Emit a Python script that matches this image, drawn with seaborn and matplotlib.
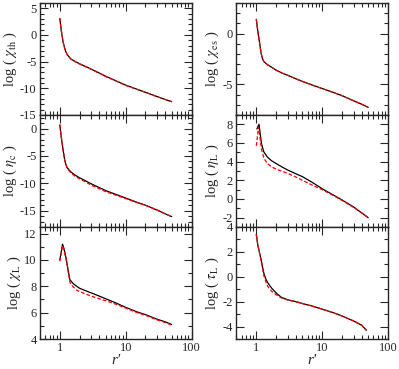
import numpy as np
import pandas as pd
import matplotlib
matplotlib.use("Agg")
import matplotlib.pyplot as plt
import matplotlib.ticker as ticker
import seaborn as sns

# radial coordinate r' for each panel
r_a = [1.0, 1.05, 1.12, 1.18, 1.23, 1.3, 1.47, 1.7, 2.0, 2.5, 3.0, 4.0, 5.0, 7.0, 10.0, 15.0, 20.0, 30.0, 40.0, 50.0]

chi_th_black = [3.1, 0.9, -1.3, -2.4, -3.1, -3.7, -4.5, -4.95, -5.4, -5.95, -6.4, -7.15, -7.75, -8.55, -9.4, -10.2, -10.75, -11.55, -12.1, -12.5]
chi_th_red = [3.1, 0.9, -1.3, -2.4, -3.1, -3.75, -4.55, -5.0, -5.45, -6.0, -6.45, -7.2, -7.8, -8.6, -9.45, -10.2, -10.75, -11.55, -12.1, -12.5]

chi_es_black = [1.4, 0.3, -0.9, -1.9, -2.4, -2.75, -3.05, -3.3, -3.6, -3.9, -4.1, -4.45, -4.7, -5.05, -5.4, -5.8, -6.1, -6.6, -6.95, -7.25]
chi_es_red = [1.4, 0.3, -0.9, -1.9, -2.4, -2.75, -3.05, -3.3, -3.6, -3.9, -4.1, -4.45, -4.7, -5.05, -5.4, -5.8, -6.1, -6.6, -6.95, -7.25]

eta_c_black = [0.7, -1.5, -3.9, -5.6, -6.5, -7.2, -7.9, -8.5, -9.0, -9.6, -10.1, -10.8, -11.35, -12.0, -12.7, -13.5, -14.0, -14.9, -15.6, -16.1]
eta_c_red = [0.7, -1.5, -3.9, -5.6, -6.5, -7.3, -8.1, -8.7, -9.2, -9.8, -10.35, -11.0, -11.55, -12.15, -12.8, -13.55, -14.05, -14.9, -15.6, -16.1]

r_etaL_black = [1.02, 1.05, 1.1, 1.15, 1.2, 1.3, 1.47, 1.7, 2.0, 2.5, 3.0, 4.0, 5.0, 7.0, 10.0, 15.0, 20.0, 30.0, 40.0, 50.0]
eta_L_black = [7.5, 7.7, 8.0, 6.9, 5.9, 5.05, 4.5, 4.1, 3.8, 3.4, 3.1, 2.7, 2.4, 1.8, 1.1, 0.4, -0.1, -0.85, -1.5, -2.0]
r_etaL_red = [1.0, 1.05, 1.08, 1.15, 1.2, 1.3, 1.47, 1.7, 2.0, 2.5, 3.0, 4.0, 5.0, 7.0, 10.0, 15.0, 20.0, 30.0, 40.0, 50.0]
eta_L_red = [5.7, 7.0, 7.7, 6.3, 5.3, 4.4, 3.8, 3.45, 3.2, 2.95, 2.75, 2.35, 2.0, 1.5, 1.0, 0.35, -0.15, -0.9, -1.5, -2.0]

r_chiL = [1.0, 1.05, 1.1, 1.15, 1.2, 1.26, 1.35, 1.42, 1.6, 1.8, 2.0, 2.5, 3.0, 4.0, 5.0, 7.0, 10.0, 15.0, 20.0, 30.0, 40.0, 50.0]
chi_L_black = [10.0, 10.6, 11.2, 10.9, 10.5, 10.0, 9.1, 8.5, 8.2, 8.0, 7.85, 7.65, 7.5, 7.25, 7.05, 6.75, 6.4, 6.05, 5.85, 5.5, 5.3, 5.1]
chi_L_red = [9.9, 10.5, 11.1, 10.8, 10.4, 9.9, 9.0, 8.3, 7.95, 7.7, 7.6, 7.4, 7.25, 7.05, 6.9, 6.65, 6.35, 6.0, 5.8, 5.45, 5.25, 5.05]

r_tau = [1.0, 1.05, 1.11, 1.17, 1.22, 1.3, 1.4, 1.5, 1.7, 2.0, 2.4, 3.0, 4.0, 5.0, 7.0, 10.0, 15.0, 20.0, 30.0, 40.0, 47.0]
tau_L_black = [3.4, 2.6, 2.0, 1.5, 1.0, 0.3, -0.2, -0.5, -0.9, -1.3, -1.65, -1.85, -2.0, -2.15, -2.35, -2.6, -2.9, -3.15, -3.55, -3.9, -4.3]
tau_L_red = [3.4, 2.6, 2.0, 1.4, 0.9, 0.1, -0.4, -0.8, -1.15, -1.45, -1.7, -1.87, -2.0, -2.15, -2.35, -2.6, -2.9, -3.15, -3.55, -3.9, -4.3]

sns.set_style("ticks")
plt.rcParams['font.family'] = ['Liberation Serif', 'DejaVu Serif']
plt.rcParams['mathtext.fontset'] = 'stix'
plt.rcParams['axes.unicode_minus'] = False

panels = [
    (r_a, chi_th_black, r_a, chi_th_red, r'log ( $\chi_{\mathrm{th}}$ )', (-15, 6), 5),
    (r_a, chi_es_black, r_a, chi_es_red, r'log ( $\chi_{\mathrm{es}}$ )', (-8, 3), 5),
    (r_a, eta_c_black, r_a, eta_c_red, r'log ( $\eta_{\mathrm{c}}$ )', (-18, 2.5), 5),
    (r_etaL_black, eta_L_black, r_etaL_red, eta_L_red, r'log ( $\eta_{\mathrm{L}}$ )', (-3, 9), 2),
    (r_chiL, chi_L_black, r_chiL, chi_L_red, r'log ( $\chi_{\mathrm{L}}$ )', (4, 12.5), 2),
    (r_tau, tau_L_black, r_tau, tau_L_red, r'log ( $\tau_{\mathrm{L}}$ )', (-5, 4), 2),
]

fig, axes = plt.subplots(3, 2, figsize=(3.99, 3.69), dpi=100)
fig.subplots_adjust(left=0.1003, right=0.9724, bottom=0.0813, top=0.9919,
                    hspace=0, wspace=0.297)

for i, (rb, yb, rr, yr, label, ylim, major) in enumerate(panels):
    ax = axes.flat[i]
    df = pd.concat([
        pd.DataFrame({'r': rb, 'val': yb, 'run': 'a'}),
        pd.DataFrame({'r': rr, 'val': yr, 'run': 'b'}),
    ])
    sns.lineplot(data=df, x='r', y='val', hue='run', style='run',
                 palette={'a': 'black', 'b': 'red'},
                 dashes={'a': '', 'b': (3, 1.6)}, lw=0.9,
                 legend=False, ax=ax)
    ax.set_xscale('log')
    ax.set_xlim(0.5, 100)
    ax.set_ylim(*ylim)
    ax.yaxis.set_major_locator(ticker.MultipleLocator(major))
    ax.yaxis.set_minor_locator(ticker.MultipleLocator(1))
    ax.xaxis.set_major_locator(ticker.FixedLocator([1, 10, 100]))
    ax.xaxis.set_minor_locator(ticker.LogLocator(base=10, subs=np.arange(2, 10)))
    ax.xaxis.set_major_formatter(ticker.FormatStrFormatter('%g'))
    ax.xaxis.set_minor_formatter(ticker.NullFormatter())
    ax.tick_params(which='both', direction='in', top=True, right=True,
                   labelsize=9, width=0.8, pad=2.5)
    ax.tick_params(which='major', length=6)
    ax.tick_params(which='minor', length=3)
    for s in ax.spines.values():
        s.set_linewidth(1.0)
    ax.set_ylabel(label, fontsize=10.5, labelpad=1)
    if i < 4:
        ax.tick_params(labelbottom=False)
        ax.set_xlabel('')
    else:
        ax.set_xlabel("r'", fontsize=11, style='italic', labelpad=0)

plt.savefig('out.png', dpi=100)
